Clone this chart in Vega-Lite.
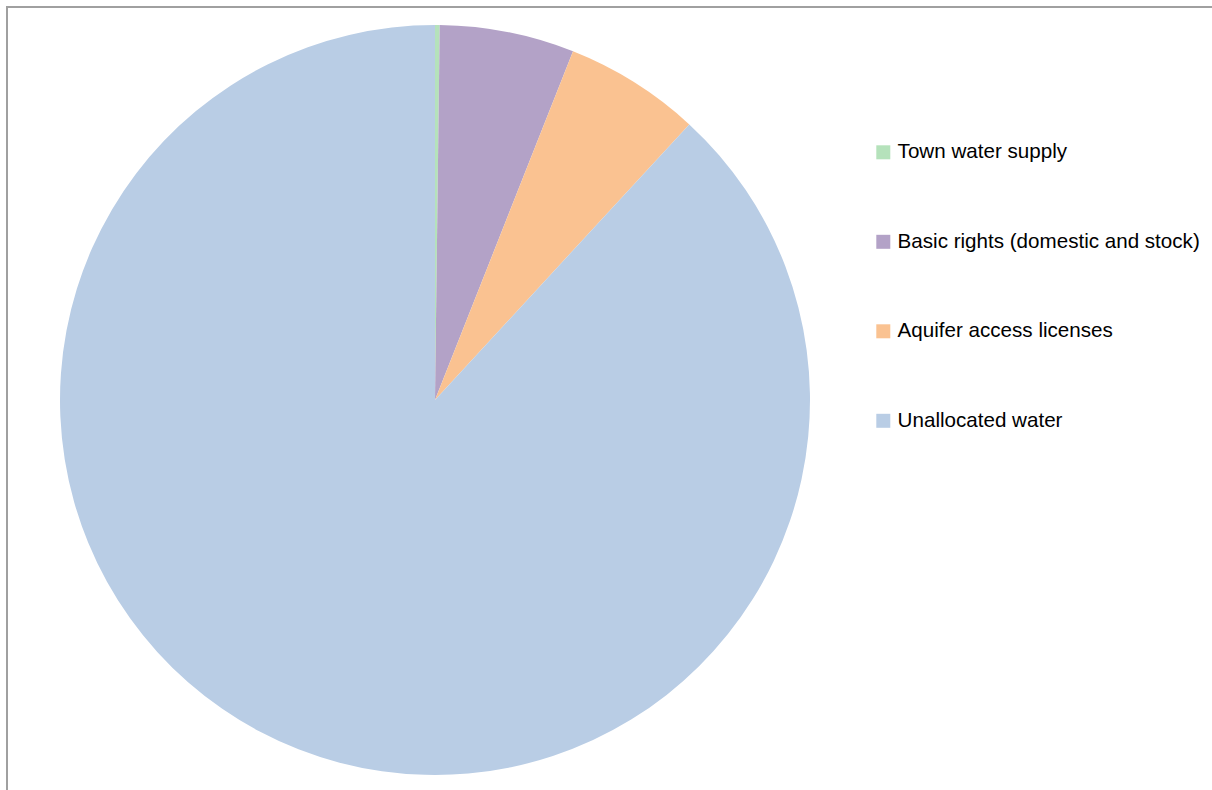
{
  "$schema": "https://vega.github.io/schema/vega-lite/v6.json",
  "autosize": "none",
  "width": 1210,
  "height": 788,
  "padding": {"left": 7, "top": 7, "right": -5, "bottom": -5},
  "background": "white",
  "view": {"stroke": "#a0a0a0", "strokeWidth": 2, "fill": "white"},
  "config": {
    "font": "Liberation Sans"
  },
  "data": {
    "values": [
      {"category": "Town water supply", "share": 0.2, "order": 1},
      {"category": "Basic rights (domestic and stock)", "share": 5.8, "order": 2},
      {"category": "Aquifer access licenses", "share": 5.86, "order": 3},
      {"category": "Unallocated water", "share": 88.14, "order": 4}
    ]
  },
  "mark": {"type": "arc", "radius": 375, "x": 428, "y": 393, "stroke": null},
  "encoding": {
    "theta": {"field": "share", "type": "quantitative", "stack": true},
    "order": {"field": "order", "type": "quantitative"},
    "color": {
      "field": "category",
      "type": "nominal",
      "scale": {
        "domain": ["Town water supply", "Basic rights (domestic and stock)", "Aquifer access licenses", "Unallocated water"],
        "range": ["#b5e2bb", "#b3a2c7", "#fac291", "#b9cde5"]
      },
      "legend": {
        "title": null,
        "orient": "none",
        "legendX": 866,
        "legendY": 135,
        "symbolType": "square",
        "symbolSize": 196,
        "symbolStrokeWidth": 0,
        "labelFontSize": 20.6,
        "labelColor": "#000000",
        "labelFont": "Liberation Sans",
        "labelOffset": 4,
        "labelLimit": 400,
        "rowPadding": 68.5
      }
    }
  }
}
